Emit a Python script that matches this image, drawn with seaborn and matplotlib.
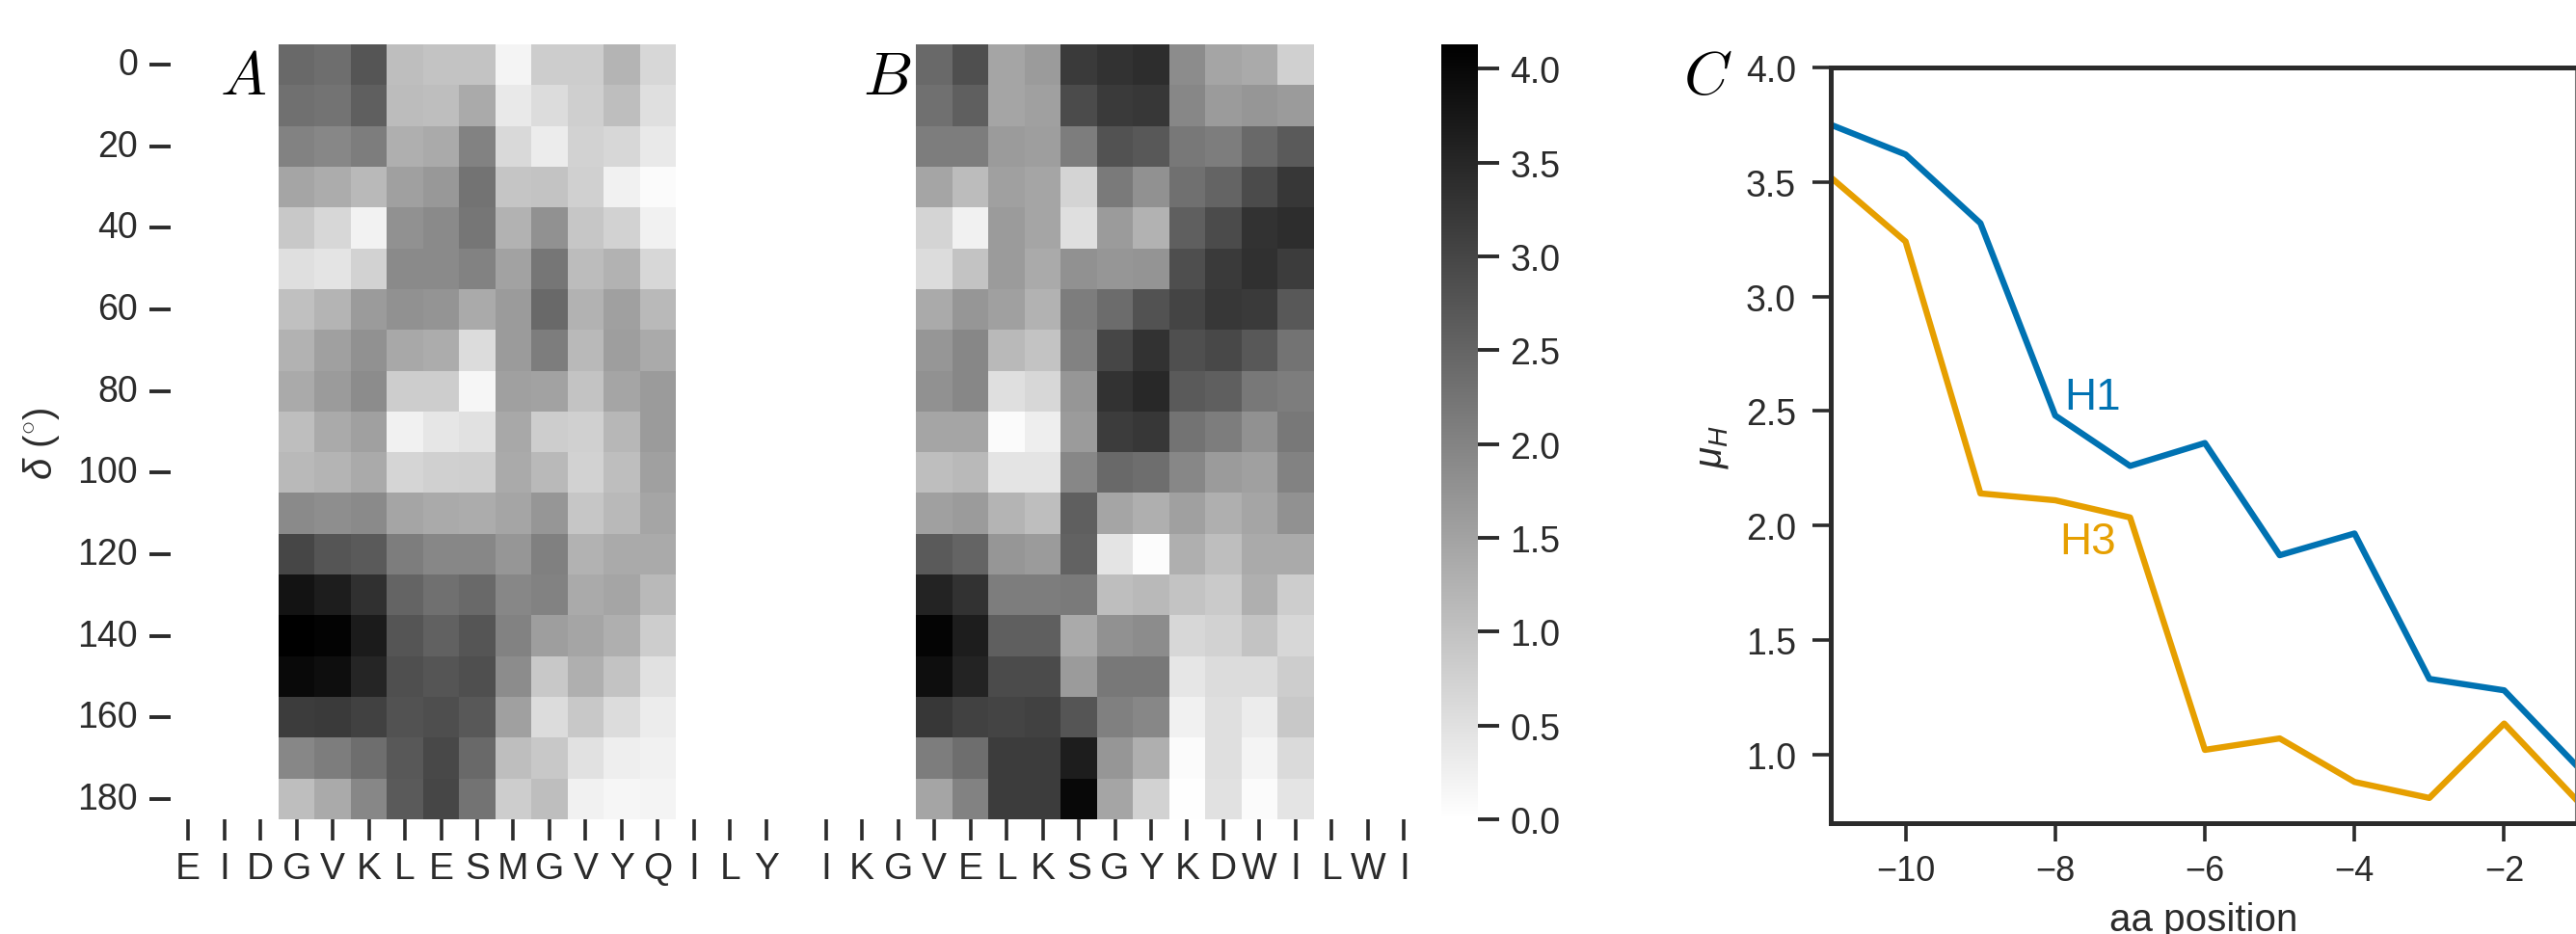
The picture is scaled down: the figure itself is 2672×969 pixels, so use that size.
import numpy as np
import pandas as pd
import matplotlib
matplotlib.use('Agg')
import matplotlib.pyplot as plt
import seaborn as sns

W, H = 2672, 970
DARK = '#2b2b2b'

deltas = list(range(0, 190, 10))
labels_a = list('EIDGVKLESMGVYQILY')
labels_b = list('IKGVELKSGYKDWILWI')

# hydrophobic moment per angle, only the 11 central residues of each window
values_a = [
    [2.43, 2.35, 2.75, 1.05, 0.97, 0.97, 0.19, 0.81, 0.81, 1.21, 0.65],
    [2.32, 2.27, 2.59, 1.09, 1.05, 1.38, 0.37, 0.57, 0.78, 1.05, 0.53],
    [2.03, 1.94, 2.11, 1.30, 1.38, 2.03, 0.62, 0.32, 0.73, 0.65, 0.36],
    [1.46, 1.34, 1.13, 1.54, 1.67, 2.27, 0.94, 0.97, 0.76, 0.24, 0.08],
    [0.89, 0.65, 0.21, 1.78, 1.90, 2.22, 1.25, 1.78, 0.92, 0.73, 0.24],
    [0.53, 0.44, 0.73, 1.90, 1.90, 2.03, 1.51, 2.22, 1.09, 1.25, 0.65],
    [1.02, 1.21, 1.62, 1.78, 1.73, 1.38, 1.62, 2.43, 1.25, 1.54, 1.13],
    [1.25, 1.54, 1.78, 1.41, 1.34, 0.57, 1.62, 2.11, 1.13, 1.57, 1.38],
    [1.38, 1.62, 1.86, 0.81, 0.81, 0.16, 1.54, 1.51, 0.97, 1.46, 1.62],
    [1.05, 1.38, 1.54, 0.24, 0.41, 0.49, 1.41, 0.81, 0.76, 1.17, 1.62],
    [1.13, 1.21, 1.38, 0.68, 0.76, 0.78, 1.38, 1.13, 0.73, 1.05, 1.54],
    [1.90, 1.83, 1.90, 1.46, 1.38, 1.34, 1.46, 1.70, 0.92, 1.13, 1.46],
    [3.00, 2.75, 2.67, 2.11, 1.94, 1.94, 1.70, 2.06, 1.25, 1.38, 1.38],
    [3.81, 3.65, 3.35, 2.51, 2.32, 2.43, 1.94, 2.03, 1.38, 1.46, 1.13],
    [4.13, 4.08, 3.68, 2.75, 2.56, 2.75, 2.03, 1.57, 1.46, 1.30, 0.81],
    [3.97, 3.89, 3.52, 2.84, 2.75, 2.84, 1.86, 0.89, 1.30, 0.97, 0.49],
    [3.16, 3.19, 3.08, 2.80, 2.87, 2.71, 1.54, 0.57, 0.89, 0.57, 0.32],
    [1.94, 2.11, 2.35, 2.71, 2.96, 2.43, 1.05, 0.89, 0.49, 0.28, 0.24],
    [1.05, 1.38, 1.94, 2.67, 3.00, 2.27, 0.81, 1.05, 0.24, 0.16, 0.19],
]
values_b = [
    [2.43, 2.84, 1.46, 1.62, 3.19, 3.32, 3.40, 1.86, 1.46, 1.38, 0.76],
    [2.32, 2.59, 1.46, 1.54, 2.92, 3.19, 3.24, 1.94, 1.62, 1.70, 1.62],
    [2.11, 2.11, 1.62, 1.57, 2.11, 2.80, 2.71, 2.19, 2.11, 2.43, 2.67],
    [1.46, 1.09, 1.54, 1.46, 0.70, 2.15, 1.78, 2.32, 2.51, 2.92, 3.24],
    [0.70, 0.24, 1.62, 1.46, 0.53, 1.62, 1.25, 2.59, 2.92, 3.32, 3.40],
    [0.57, 0.97, 1.62, 1.38, 1.78, 1.70, 1.73, 2.87, 3.19, 3.35, 3.16],
    [1.38, 1.70, 1.54, 1.25, 2.11, 2.38, 2.80, 3.03, 3.24, 3.19, 2.71],
    [1.70, 1.94, 1.13, 0.97, 2.03, 3.00, 3.32, 2.84, 2.96, 2.71, 2.27],
    [1.78, 1.94, 0.53, 0.65, 1.70, 3.32, 3.48, 2.67, 2.59, 2.19, 2.11],
    [1.46, 1.46, 0.08, 0.28, 1.62, 3.16, 3.24, 2.27, 2.11, 1.78, 2.19],
    [1.05, 1.13, 0.44, 0.44, 1.94, 2.43, 2.35, 1.94, 1.62, 1.54, 2.03],
    [1.54, 1.62, 1.21, 1.05, 2.59, 1.46, 1.30, 1.54, 1.30, 1.46, 1.78],
    [2.67, 2.51, 1.70, 1.62, 2.54, 0.44, 0.05, 1.30, 1.05, 1.38, 1.38],
    [3.56, 3.32, 2.11, 2.11, 2.15, 1.05, 1.13, 0.97, 0.86, 1.30, 0.81],
    [4.05, 3.65, 2.59, 2.59, 1.38, 1.78, 1.86, 0.65, 0.73, 0.97, 0.65],
    [3.89, 3.56, 2.92, 2.92, 1.62, 2.19, 2.19, 0.41, 0.57, 0.57, 0.81],
    [3.24, 3.08, 3.03, 3.08, 2.75, 2.06, 1.94, 0.24, 0.53, 0.32, 0.89],
    [2.11, 2.35, 3.16, 3.16, 3.65, 1.70, 1.30, 0.08, 0.53, 0.19, 0.60],
    [1.46, 2.03, 3.16, 3.16, 4.00, 1.46, 0.73, 0.03, 0.49, 0.08, 0.44],
]
vmin, vmax = 0.0, 4.13

aa_position = [-11, -10, -9, -8, -7, -6, -5, -4, -3, -2, -1]
mu_h1 = [3.75, 3.62, 3.32, 2.48, 2.26, 2.36, 1.87, 1.965, 1.33, 1.28, 0.94]
mu_h3 = [3.52, 3.24, 2.14, 2.11, 2.035, 1.02, 1.07, 0.88, 0.81, 1.135, 0.79]


def pixel_axes(fig, left, top, right, bottom):
    return fig.add_axes([left / W, 1 - bottom / H, (right - left) / W, (bottom - top) / H])


def window_frame(values, labels):
    # blank columns either side of the window, 3 residues each
    grid = np.full((len(deltas), len(labels)), np.nan)
    grid[:, 3:14] = np.array(values)
    return pd.DataFrame(grid, index=deltas, columns=np.arange(len(labels)))


sns.set_theme(style='ticks', font='Liberation Sans')
plt.rcParams['text.color'] = DARK
plt.rcParams['axes.labelcolor'] = DARK
plt.rcParams['xtick.color'] = DARK
plt.rcParams['ytick.color'] = DARK
plt.rcParams['mathtext.fontset'] = 'custom'
plt.rcParams['mathtext.rm'] = 'Liberation Sans'
plt.rcParams['mathtext.it'] = 'Liberation Sans:italic'

fig = plt.figure(figsize=(W / 100, H / 100), dpi=100, facecolor='white')

ax_a = pixel_axes(fig, 176.5, 47, 813.5, 851)
ax_b = pixel_axes(fig, 838, 47, 1475, 851)
ax_c = pixel_axes(fig, 1899, 71, 2672, 855)
cax = pixel_axes(fig, 1495, 47, 1533, 851)

sns.heatmap(window_frame(values_a, labels_a), ax=ax_a, cmap='gray_r', vmin=vmin, vmax=vmax,
            cbar=False, xticklabels=labels_a, yticklabels=2)
sns.heatmap(window_frame(values_b, labels_b), ax=ax_b, cmap='gray_r', vmin=vmin, vmax=vmax,
            cbar_ax=cax, xticklabels=labels_b, yticklabels=False)

for ax in (ax_a, ax_b):
    ax.tick_params(axis='x', length=16, width=2.6, labelsize=28, pad=8, rotation=0)
    ax.set_xlabel('')
ax_a.tick_params(axis='y', length=16, width=2.8, labelsize=27, pad=8, rotation=0)
ax_b.tick_params(axis='y', left=False)
ax_a.set_ylabel(r'$\delta$ ($^{\circ}$)', fontsize=29)
ax_a.yaxis.set_label_coords((64 - 176.5) / 637, 0.486)

cbar = ax_b.collections[0].colorbar
cbar.set_ticks(np.arange(0, 4.5, 0.5))
cbar.outline.set_visible(False)
cax.tick_params(length=16, width=2.8, labelsize=27, pad=8)

for name, x in (('A', 252), ('B', 920), ('C', 1771)):
    fig.text(x / W, 1 - 81 / H, f'${name}$', fontsize=46, color='black', ha='center', va='center',
             math_fontfamily='cm')

df_c = pd.DataFrame({'aa': aa_position, 'H1': mu_h1, 'H3': mu_h3})
sns.lineplot(data=df_c, x='aa', y='H1', ax=ax_c, color='#0072B2', lw=4.6, errorbar=None)
sns.lineplot(data=df_c, x='aa', y='H3', ax=ax_c, color='#E69F00', lw=4.6, errorbar=None)
ax_c.set_xlim(-11, -1.04)
ax_c.set_ylim(0.7, 4.0)
ax_c.set_xticks([-10, -8, -6, -4, -2])
ax_c.set_yticks([1.0, 1.5, 2.0, 2.5, 3.0, 3.5, 4.0])
ax_c.tick_params(axis='x', length=14, width=2.6, labelsize=26, pad=9)
ax_c.tick_params(axis='y', length=14, width=2.6, labelsize=27, pad=12)
for side in ax_c.spines.values():
    side.set_linewidth(3.6)
    side.set_color(DARK)
ax_c.spines['right'].set_linewidth(1.5)
ax_c.spines['right'].set_color('#777777')
ax_c.set_xlabel('aa position', fontsize=29, labelpad=10)
ax_c.set_ylabel(r'$\mu_H$', fontsize=29)
ax_c.yaxis.set_label_coords((1795 - 1899) / 773, 0.5)
ax_c.text(-7.88, 2.56, 'H1', color='#0072B2', fontsize=33, va='center', ha='left')
ax_c.text(-7.94, 1.93, 'H3', color='#E69F00', fontsize=33, va='center', ha='left')

fig.savefig('out.png', dpi=100, facecolor='white')
